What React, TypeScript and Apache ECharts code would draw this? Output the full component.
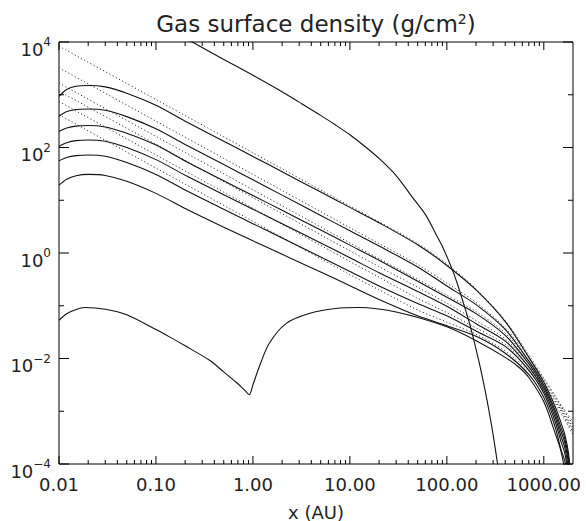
import React, { useEffect, useRef } from "react";
import * as echarts from "echarts";

// radius grid (AU) for the six simulated profiles
const R = [0.01, 0.012, 0.015, 0.02, 0.03, 0.05, 0.1, 0.2, 0.5, 1, 2, 5, 10, 20, 50, 100, 200, 400, 700, 1000, 1300, 1500, 1650, 1800, 1900, 2000];
const C1 = [933, 1260, 1450, 1500, 1410, 1070, 631, 316, 132, 67.6, 34.7, 14.3, 7.33, 3.74, 1.43, 0.581, 0.2, 0.0501, 0.0105, 0.00359, 0.00126, 0.000617, 0.000355, 0.000158, 5e-5, 1e-6];
const C2 = [389, 479, 525, 537, 508, 385, 227, 114, 47.5, 24.4, 12.5, 5.15, 2.64, 1.36, 0.543, 0.237, 0.105, 0.0355, 0.00891, 0.00316, 0.00107, 0.000501, 0.0003, 0.000126, 3.2e-5, 1e-6];
const C3 = [202, 234, 254, 261, 245, 186, 111, 55.6, 23.4, 12.3, 6.46, 2.72, 1.41, 0.729, 0.292, 0.145, 0.0708, 0.0275, 0.00794, 0.00282, 0.000933, 0.000417, 0.00025, 0.0001, 2e-5, 1e-6];
const C4 = [105, 123, 135, 139, 131, 100, 58.9, 29.9, 12.7, 6.76, 3.59, 1.55, 0.813, 0.422, 0.186, 0.0977, 0.0457, 0.0214, 0.00692, 0.00251, 0.000794, 0.000339, 0.0002, 7.1e-5, 1.26e-5, 1e-6];
const C5 = [56.0, 64.6, 70.0, 72.1, 68.1, 51.9, 30.9, 15.7, 6.76, 3.59, 1.93, 0.841, 0.447, 0.237, 0.11, 0.0646, 0.0331, 0.017, 0.00603, 0.00219, 0.000661, 0.000269, 0.000158, 5e-5, 8e-6, 1e-6];
const C6 = [19.4, 25.1, 29.2, 30.9, 29.5, 22.9, 13.5, 7.0, 3.09, 1.7, 0.944, 0.437, 0.24, 0.132, 0.0646, 0.0417, 0.0263, 0.0126, 0.00501, 0.00182, 0.000525, 0.000191, 0.000112, 3.2e-5, 5e-6, 1e-6];

// lowest profile with the gap near 1 AU
const RB = [0.01, 0.012, 0.015, 0.0184, 0.03, 0.05, 0.1, 0.138, 0.2, 0.357, 0.5, 0.668, 0.8, 0.918, 1.0, 1.16, 1.47, 2.19, 3.8, 7.1, 12.4, 30, 100, 212, 400, 550, 700, 1000, 1300, 1500, 1650, 1750, 1850];
const CB = [0.0531, 0.0708, 0.0851, 0.0925, 0.0861, 0.0676, 0.0355, 0.0257, 0.0174, 0.00925, 0.00556, 0.00358, 0.00263, 0.00207, 0.00316, 0.0069, 0.0192, 0.0459, 0.0711, 0.0885, 0.0925, 0.0759, 0.0398, 0.0206, 0.0105, 0.0069, 0.00437, 0.00151, 0.000398, 0.000178, 7.1e-5, 2.5e-5, 1e-6];

// steep initial profile
const RS = [0.1, 0.237, 0.5, 1, 1.86, 3, 5, 7, 10, 14, 20, 30, 44, 60, 76, 90, 113, 130, 155, 175, 197, 220, 250, 270, 300, 340];
const CS = [24000, 10000, 4680, 2340, 1230, 724, 407, 272, 174, 108, 62, 29.4, 11.5, 5.4, 2.4, 1.33, 0.5, 0.242, 0.086, 0.0402, 0.0168, 0.0071, 0.0023, 0.0011, 0.00036, 7.9e-5];

// dotted similarity solutions
const RD = [0.01, 0.1, 1, 10, 20, 50, 100, 200, 400, 700, 1000, 1300, 1600, 2000];
const D1 = [8320, 813, 79.4, 7.76, 3.89, 1.51, 0.617, 0.209, 0.0525, 0.0117, 0.00427, 0.002, 0.00112, 0.000631];
const D2 = [3240, 316, 30.9, 3.02, 1.51, 0.603, 0.269, 0.115, 0.038, 0.0105, 0.00398, 0.00191, 0.00105, 0.000562];
const D3 = [1660, 162, 15.8, 1.55, 0.776, 0.316, 0.158, 0.0776, 0.0302, 0.00912, 0.00355, 0.00174, 0.000955, 0.000501];
const D4 = [1170, 115, 11.2, 1.1, 0.55, 0.224, 0.112, 0.0525, 0.0234, 0.00794, 0.00316, 0.00158, 0.000891, 0.000447];
const D5 = [741, 72.4, 7.08, 0.692, 0.347, 0.138, 0.0741, 0.038, 0.0186, 0.00692, 0.00282, 0.00145, 0.000832, 0.000398];
const D6 = [417, 40.7, 3.98, 0.389, 0.2, 0.0832, 0.049, 0.0288, 0.0138, 0.00575, 0.0024, 0.00126, 0.000759, 0.000355];

// axes
const X_MIN = 0.01;
const X_MAX = 2000;
const Y_MIN = 1e-4;
const Y_MAX = 1e4;
const X_DECADES = [0.01, 0.1, 1, 10, 100, 1000];
const X_MINOR_MULT = [2, 3, 4, 5, 6, 7, 8, 9];
const Y_DECADES = [1e-4, 1e-3, 1e-2, 1e-1, 1, 10, 100, 1e3, 1e4];

const TITLE = "Gas surface density (g/cm{s|2})";
const X_NAME = "x (AU)";

const FONT = "DejaVu Sans";
const INK = "#222";

const pairs = (xs: number[], ys: number[]) => xs.map((x, i) => [x, ys[i]]);

export default function App() {
  const ref = useRef<HTMLDivElement>(null);
  useEffect(() => {
    if (!ref.current) return;
    const chart = echarts.init(ref.current, null, { renderer: "svg" });

    const xTicks: number[][] = [];
    X_DECADES.forEach((d) => {
      xTicks.push([d, 1, 8]);
      X_MINOR_MULT.forEach((m) => {
        const v = d * m;
        if (v < X_MAX) xTicks.push([v, 1, 4]);
      });
    });
    const yTicks = Y_DECADES.map((v) => [1, v, Math.round(Math.log10(v)) % 2 === 0 ? 10 : 5]);

    const solid = (name: string, xs: number[], ys: number[]) => ({
      name,
      type: "line",
      data: pairs(xs, ys),
      showSymbol: false,
      symbol: "none",
      smooth: 0.3,
      clip: true,
      silent: true,
      lineStyle: { color: "#111", width: 1.1 },
      z: 3,
    });
    const dotted = (name: string, xs: number[], ys: number[]) => ({
      name,
      type: "line",
      data: pairs(xs, ys),
      showSymbol: false,
      symbol: "none",
      smooth: 0.3,
      clip: true,
      silent: true,
      lineStyle: { color: "#333", width: 1, type: [1.2, 2.4] },
      z: 2,
    });

    const tickStyle = { stroke: "#000", lineWidth: 1 };

    chart.setOption({
      animation: false,
      grid: {
        left: 59,
        right: 13,
        top: 42,
        bottom: 57,
        show: true,
        borderColor: "#000",
        borderWidth: 1,
        outerBoundsMode: "none",
        containLabel: false,
      },
      graphic: [
        {
          type: "text",
          x: 316,
          y: 12,
          style: {
            text: TITLE,
            fontFamily: FONT,
            fontSize: 23,
            fill: INK,
            align: "center",
            textAlign: "center",
            verticalAlign: "top",
            rich: {
              s: { fontFamily: FONT, fontSize: 14, fill: INK, verticalAlign: "top", lineHeight: 14 },
            },
          },
        },
      ],
      xAxis: {
        type: "log",
        logBase: 10,
        min: X_MIN,
        max: X_MAX,
        name: X_NAME,
        nameLocation: "middle",
        nameGap: 39,
        nameTextStyle: { fontFamily: FONT, fontSize: 18, color: INK },
        axisLine: { show: false },
        axisTick: { show: false },
        splitLine: { show: false },
        minorTick: { show: false },
        axisLabel: {
          margin: 11,
          fontFamily: FONT,
          fontSize: 18,
          color: INK,
          formatter: (v: number) => {
            const e = Math.log10(v);
            if (Math.abs(e - Math.round(e)) > 1e-6) return "";
            return v.toFixed(2);
          },
        },
      },
      yAxis: {
        type: "log",
        logBase: 10,
        min: Y_MIN,
        max: Y_MAX,
        axisLine: { show: false },
        axisTick: { show: false },
        splitLine: { show: false },
        axisLabel: {
          margin: 8,
          padding: [10, 0, 0, 0],
          formatter: (v: number) => {
            const le = Math.log10(v);
            const e = Math.round(le);
            if (Math.abs(le - e) > 1e-6 || e % 2 !== 0) return "";
            return `{b|10}{s|${e < 0 ? "\u2212" : ""}${Math.abs(e)}}`;
          },
          rich: {
            b: { fontFamily: FONT, fontSize: 18, color: INK, lineHeight: 22, verticalAlign: "bottom" },
            s: { fontFamily: FONT, fontSize: 12, color: INK, lineHeight: 12, verticalAlign: "top" },
          },
        },
      },
      series: [
        dotted("d1", RD, D1),
        dotted("d2", RD, D2),
        dotted("d3", RD, D3),
        dotted("d4", RD, D4),
        dotted("d5", RD, D5),
        dotted("d6", RD, D6),
        solid("c1", R, C1),
        solid("c2", R, C2),
        solid("c3", R, C3),
        solid("c4", R, C4),
        solid("c5", R, C5),
        solid("c6", R, C6),
        solid("gap", RB, CB),
        solid("initial", RS, CS),
        {
          type: "custom",
          silent: true,
          clip: false,
          z: 5,
          data: xTicks,
          encode: { x: 0, y: 1 },
          renderItem: (params: any, api: any) => {
            const p = api.coord([api.value(0), api.value(1)]);
            const cs = params.coordSys;
            const len = api.value(2);
            const yb = cs.y + cs.height;
            return {
              type: "group",
              children: [
                { type: "line", shape: { x1: p[0], y1: yb, x2: p[0], y2: yb - len }, style: tickStyle },
                { type: "line", shape: { x1: p[0], y1: cs.y, x2: p[0], y2: cs.y + len }, style: tickStyle },
              ],
            };
          },
        },
        {
          type: "custom",
          silent: true,
          clip: false,
          z: 5,
          data: yTicks,
          encode: { x: 0, y: 1 },
          renderItem: (params: any, api: any) => {
            const p = api.coord([api.value(0), api.value(1)]);
            const cs = params.coordSys;
            const len = api.value(2);
            const xr = cs.x + cs.width;
            return {
              type: "group",
              children: [
                { type: "line", shape: { x1: cs.x, y1: p[1], x2: cs.x + len, y2: p[1] }, style: tickStyle },
                { type: "line", shape: { x1: xr, y1: p[1], x2: xr - len, y2: p[1] }, style: tickStyle },
              ],
            };
          },
        },
      ],
    });
    return () => chart.dispose();
  }, []);

  return (
    <div
      ref={ref}
      style={{ position: "fixed", left: 0, top: 0, width: 586, height: 521, background: "#fff" }}
    />
  );
}
